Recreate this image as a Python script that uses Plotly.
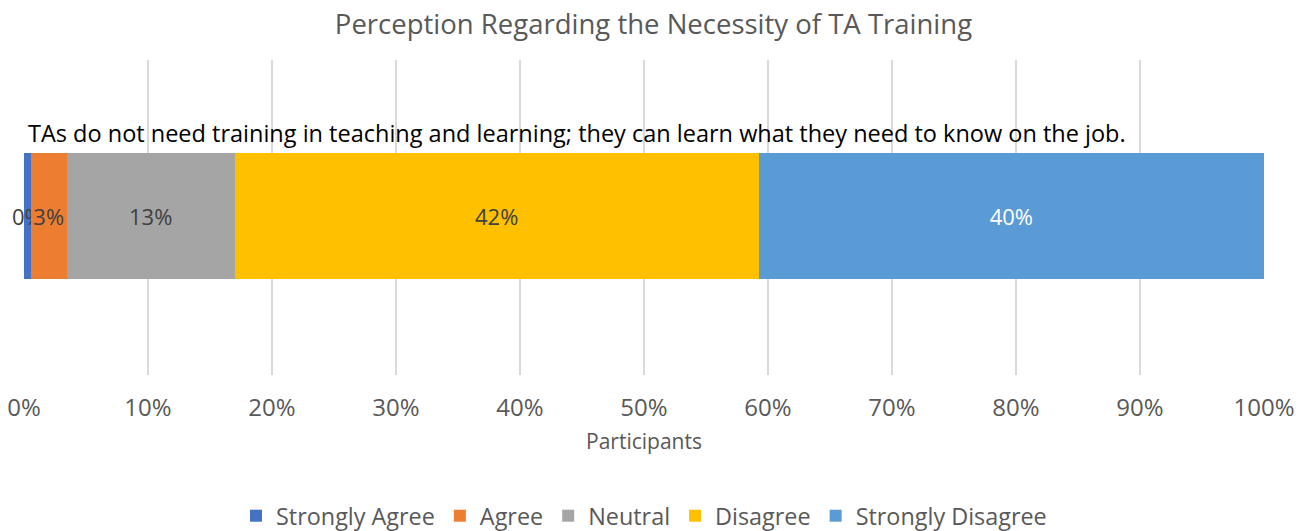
import plotly.graph_objects as go

categories = ["TAs do not need training in teaching and learning; they can learn what they need to know on the job."]
series_names = ["Strongly Agree", "Agree", "Neutral", "Disagree", "Strongly Disagree"]
series_values = [0.54, 2.9, 13.55, 42.26, 40.75]
series_labels = ["0%", "3%", "13%", "42%", "40%"]
colors = ["#4472C4", "#ED7D31", "#A5A5A5", "#FFC000", "#5B9BD5"]
label_colors = ["#404040", "#404040", "#404040", "#404040", "#FFFFFF"]
tick_vals = [0, 10, 20, 30, 40, 50, 60, 70, 80, 90, 100]
tick_text = ["0%", "10%", "20%", "30%", "40%", "50%", "60%", "70%", "80%", "90%", "100%"]

FONT = "Open Sans"
W, H = 1307, 531

fig = go.Figure()
for name, val, lab, col, lcol in zip(series_names, series_values, series_labels, colors, label_colors):
    fig.add_trace(go.Bar(
        y=categories, x=[val], name=name, orientation="h",
        marker=dict(color=col, line=dict(width=0)),
        text=[lab], textposition="inside", insidetextanchor="middle",
        textangle=0,
        textfont=dict(color=lcol, size=22, family=FONT),
        constraintext="none", cliponaxis=False,
    ))

fig.update_layout(
    barmode="stack",
    bargap=0.6,
    width=W, height=H,
    margin=dict(l=24, r=43, t=60, b=H - 375, autoexpand=False),
    plot_bgcolor="white", paper_bgcolor="white",
    uniformtext=dict(minsize=22, mode="show"),
    title=dict(text="Perception Regarding the Necessity of TA Training",
               x=0.5, xanchor="center", y=1 - 24 / H, yanchor="middle",
               font=dict(family=FONT, size=27.5, color="#595959")),
    xaxis=dict(range=[0, 100], tickvals=tick_vals, ticktext=tick_text,
               showgrid=True, gridcolor="#D9D9D9", gridwidth=2,
               zeroline=False, showline=False, ticks="", automargin=False,
               ticklabelstandoff=16,
               tickfont=dict(family=FONT, size=24, color="#595959"),
               title=dict(text="Participants", standoff=12,
                          font=dict(family=FONT, size=21, color="#595959"))),
    yaxis=dict(showticklabels=False, showgrid=False, zeroline=False,
               range=[-0.5063, 0.4937], automargin=False),
    legend=dict(orientation="h", x=0.5, xanchor="center",
                yref="container", y=1 - 516 / H, yanchor="middle",
                font=dict(family=FONT, size=23.4, color="#595959"),
                itemwidth=30, traceorder="normal"),
    showlegend=True,
)

fig.add_annotation(
    x=0, xref="x", y=categories[0], yref="y", yshift=83,
    text=categories[0], showarrow=False, xanchor="left", yanchor="middle",
    xshift=2,
    font=dict(family=FONT, size=23.5, color="#000000"),
)

fig.write_html("out.html", config={"displayModeBar": False},
               post_script="document.body.style.margin='0';")
